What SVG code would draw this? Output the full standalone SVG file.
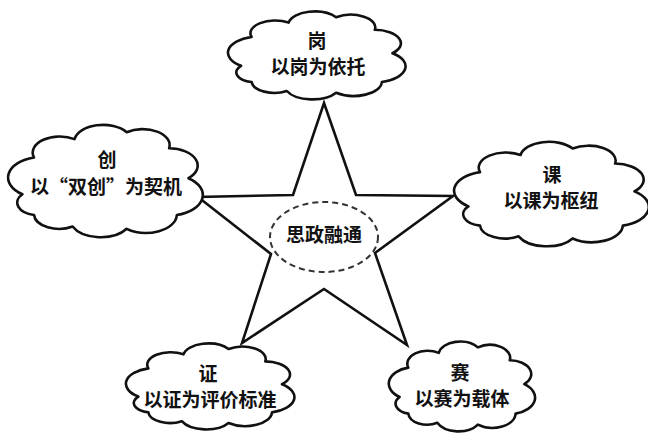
<svg xmlns="http://www.w3.org/2000/svg" xmlns:xlink="http://www.w3.org/1999/xlink" width="648" height="438" viewBox="0 0 648 438">
<style>
.star{fill:none;stroke:#111;stroke-width:2.6;stroke-linejoin:miter}
.cloud{fill:#fff;stroke:#111;stroke-width:2.6;stroke-linejoin:round;vector-effect:non-scaling-stroke}
.core{fill:#fff;stroke:#333;stroke-width:2;stroke-dasharray:6 4}
.t{font-family:"Noto Sans CJK SC","Noto Sans",sans-serif;font-size:19px;font-weight:700;fill:#111;text-anchor:middle}
</style>
<defs>
<path id="cloudShape" class="cloud" d="M8,62 A18,18 0 0 1 14,30 A14,14 0 0 1 35,14 A15,15 0 0 1 62,8 A14,14 0 0 1 84,22 A15,15 0 0 1 94,48 A18,18 0 0 1 88,80 A16,16 0 0 1 62,92 A16,16 0 0 1 34,90 A13,13 0 0 1 14,80 A11,11 0 0 1 8,62 Z"/>
</defs>
<rect width="648" height="438" fill="#fff"/>
<g id="connectors">
<polygon class="star" points="324,103 356,195 453,196 375,253 407,345 324,289 242,343 271,254 198,197 293,195"/>
</g>
<g id="center">
<ellipse class="core" cx="324" cy="237" rx="54" ry="35"/>
<text class="t" x="324" y="242">思政融通</text>
</g>
<g id="gang">
<use xlink:href="#cloudShape" transform="translate(227,10) scale(1.76,0.9)"/>
<text class="t" x="317" y="48">岗</text>
<text class="t" x="318" y="74">以岗为依托</text>
</g>
<g id="chuang">
<use xlink:href="#cloudShape" transform="translate(7,123) scale(1.93,1.15)"/>
<text class="t" x="107" y="167">创</text>
<text class="t" x="106" y="194">以“双创”为契机</text>
</g>
<g id="ke">
<use xlink:href="#cloudShape" transform="translate(453,140) scale(1.93,1.07)"/>
<text class="t" x="552" y="182">课</text>
<text class="t" x="551" y="208">以课为枢纽</text>
</g>
<g id="zheng">
<use xlink:href="#cloudShape" transform="translate(125,342) scale(1.67,0.88)"/>
<text class="t" x="208" y="381">证</text>
<text class="t" x="210" y="407">以证为评价标准</text>
</g>
<g id="sai">
<use xlink:href="#cloudShape" transform="translate(388,340) scale(1.45,0.92)"/>
<text class="t" x="460" y="380">赛</text>
<text class="t" x="462" y="406">以赛为载体</text>
</g>
</svg>
